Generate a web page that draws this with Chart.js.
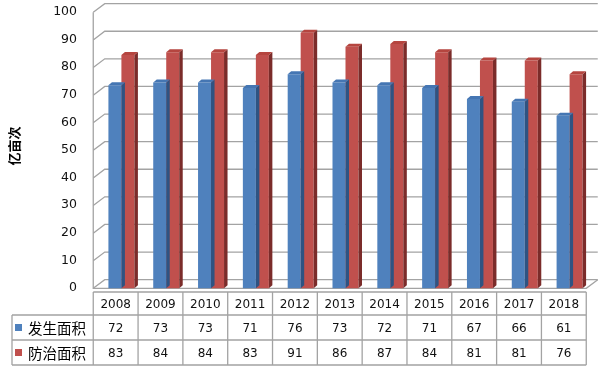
<!DOCTYPE html>
<html>
<head>
<meta charset="utf-8">
<script src="https://cdn.jsdelivr.net/npm/chart.js@4.4.1/dist/chart.umd.min.js"></script>
<style>
  html, body { margin: 0; padding: 0; background: #fff; }
  canvas { display: block; }
</style>
</head>
<body>
<canvas id="chart" width="600" height="367"></canvas>
<script>
const years = ["2008", "2009", "2010", "2011", "2012", "2013", "2014", "2015", "2016", "2017", "2018"];
const occurArea = [72, 73, 73, 71, 76, 73, 72, 71, 67, 66, 61];
const controlArea = [83, 84, 84, 83, 91, 86, 87, 84, 81, 81, 76];
const seriesNames = ["发生面积", "防治面积"];
const axisTitle = "亿亩次";
const yMin = 0;
const yMax = 100;
const yStep = 10;

const frontColors = ["#4F81BD", "#C0504D"];
const sideColors = ["#2F5382", "#7B2C2A"];
const topColors = ["#4576B3", "#B5453F"];

const depth = { x: 11.5, y: 8.7 }; // depth of the walls
const barDepth = { x: 3.5, y: 3 };
const gridColor = "#a3a3a3";

const ctx = document.getElementById("chart").getContext("2d");

// back wall, left wall and floor edges
const wallsPlugin = {
  id: "walls",
  beforeDatasetsDraw(chart) {
    const { ctx, scales: { x, y } } = chart;
    const hx = depth.x / 2;
    const hy = depth.y / 2;
    const fl = x.left - hx;
    const fr = x.right - hx;
    ctx.save();
    ctx.strokeStyle = gridColor;
    ctx.lineWidth = 1.3;
    y.ticks.forEach((t) => {
      const py = y.getPixelForValue(t.value) + hy;
      ctx.beginPath();
      ctx.moveTo(fl, py);
      ctx.lineTo(fl + depth.x, py - depth.y);
      ctx.lineTo(fr + depth.x, py - depth.y);
      ctx.stroke();
    });
    const top = y.getPixelForValue(yMax) + hy;
    const bot = y.getPixelForValue(yMin) + hy;
    ctx.beginPath();
    ctx.moveTo(fl, top);
    ctx.lineTo(fl, bot);
    ctx.lineTo(fr, bot);
    ctx.lineTo(fr + depth.x, bot - depth.y);
    ctx.stroke();
    ctx.restore();
  },
};

// side and top faces of each bar
const bars3d = {
  id: "bars3d",
  afterDatasetDraw(chart, args) {
    const { ctx } = chart;
    const i = args.index;
    ctx.save();
    args.meta.data.forEach((bar) => {
      const { x: cx, y: top, base, width } = bar.getProps(["x", "y", "base", "width"], true);
      const l = cx - width / 2;
      const r = cx + width / 2;
      ctx.fillStyle = sideColors[i];
      ctx.beginPath();
      ctx.moveTo(r, top);
      ctx.lineTo(r + barDepth.x, top - barDepth.y);
      ctx.lineTo(r + barDepth.x, base - barDepth.y);
      ctx.lineTo(r, base);
      ctx.closePath();
      ctx.fill();
      ctx.fillStyle = topColors[i];
      ctx.beginPath();
      ctx.moveTo(l, top);
      ctx.lineTo(l + barDepth.x, top - barDepth.y);
      ctx.lineTo(r + barDepth.x, top - barDepth.y);
      ctx.lineTo(r, top);
      ctx.closePath();
      ctx.fill();
    });
    ctx.restore();
  },
};

// data table under the plot
const dataTable = {
  id: "dataTable",
  afterDraw(chart) {
    const { ctx, scales: { x } } = chart;
    const hx = depth.x / 2;
    const tableTop = 292;
    const rowH = [23, 25, 25];
    const legendLeft = 12;
    const colLeft = x.left - hx;
    const colRight = x.right - hx;
    const colW = (x.right - x.left) / years.length;
    const rowTops = [tableTop, tableTop + rowH[0], tableTop + rowH[0] + rowH[1]];
    const tableBot = rowTops[2] + rowH[2];

    ctx.save();
    ctx.strokeStyle = gridColor;
    ctx.lineWidth = 1.3;
    ctx.beginPath();
    ctx.moveTo(colLeft, tableTop);
    ctx.lineTo(colRight, tableTop);
    [rowTops[1], rowTops[2], tableBot].forEach((ry) => {
      ctx.moveTo(legendLeft, ry);
      ctx.lineTo(colRight, ry);
    });
    ctx.moveTo(legendLeft, rowTops[1]);
    ctx.lineTo(legendLeft, tableBot);
    for (let c = 0; c <= years.length; c++) {
      ctx.moveTo(colLeft + c * colW, tableTop);
      ctx.lineTo(colLeft + c * colW, tableBot);
    }
    ctx.stroke();

    ctx.textAlign = "center";
    ctx.textBaseline = "middle";
    ctx.fillStyle = "#111";
    ctx.font = "12px 'DejaVu Sans'";
    const rows = [occurArea, controlArea];
    years.forEach((yr, c) => {
      const cx = x.getPixelForValue(c) - hx;
      ctx.fillText(yr, cx, rowTops[0] + rowH[0] / 2 + 1);
      rows.forEach((vals, r) => {
        ctx.fillText(String(vals[c]), cx, rowTops[r + 1] + rowH[r + 1] / 2 + 1);
      });
    });

    ctx.textAlign = "left";
    ctx.font = "14.5px 'Noto Sans CJK SC'";
    seriesNames.forEach((name, r) => {
      const cy = rowTops[r + 1] + rowH[r + 1] / 2;
      ctx.fillStyle = frontColors[r];
      ctx.fillRect(15, cy - 3.5, 7, 7);
      ctx.fillStyle = "#000";
      ctx.fillText(name, 28, cy + 1);
    });
    ctx.restore();
  },
};

new Chart(ctx, {
  type: "bar",
  data: {
    labels: years,
    datasets: [
      {
        label: seriesNames[0],
        data: occurArea,
        backgroundColor: frontColors[0],
        base: -1.5,
        clip: false,
      },
      {
        label: seriesNames[1],
        data: controlArea,
        backgroundColor: frontColors[1],
        base: -1.5,
        clip: false,
      },
    ],
  },
  options: {
    responsive: false,
    animation: false,
    categoryPercentage: 0.58,
    barPercentage: 1,
    layout: {
      padding: { top: 8, right: 8, bottom: 83, left: 0 },
    },
    plugins: {
      legend: { display: false },
      tooltip: { enabled: false },
    },
    scales: {
      x: {
        display: false,
      },
      y: {
        min: yMin,
        max: yMax,
        ticks: {
          stepSize: yStep,
          padding: 22,
          labelOffset: 4,
          color: "#111",
          font: { family: "DejaVu Sans", size: 12.5 },
        },
        grid: { display: false, drawTicks: false },
        border: { display: false },
        title: {
          display: true,
          text: axisTitle,
          color: "#000",
          font: { family: "Noto Sans CJK SC", size: 13, weight: "bold" },
          padding: { top: 6, bottom: 0 },
        },
        afterFit(scale) {
          scale.width = 99;
          scale.paddingTop = 0;
          scale.paddingBottom = 0;
        },
      },
    },
  },
  plugins: [wallsPlugin, bars3d, dataTable],
});
</script>
</body>
</html>
